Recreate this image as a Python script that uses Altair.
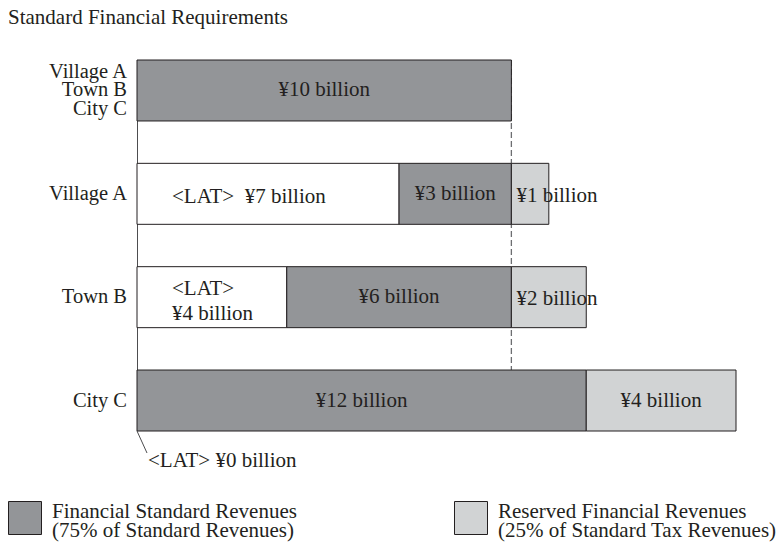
import altair as alt
import pandas as pd

# ---- data ----
chart_title = "Standard Financial Requirements"
rows = ["Village A|Town B|City C", "Village A", "Town B", "City C"]
municipalities = ["Village A", "Town B", "City C"]
standard_requirement = 10          # ¥ billion, common to all three
lat_values = [7, 4, 0]             # local allocation tax
fsr_values = [3, 6, 12]            # financial standard revenues
reserved_values = [1, 2, 4]        # reserved financial revenues

K_STD = "Standard"
K_LAT = "LAT"
K_FSR = "Financial Standard Revenues|(75% of Standard Revenues)"
K_RES = "Reserved Financial Revenues|(25% of Standard Tax Revenues)"
kind_domain = [K_STD, K_LAT, K_FSR, K_RES]
kind_colors = ["#939598", "#ffffff", "#939598", "#d1d3d4"]

FONT = "Liberation Serif"
INK = "#231f20"


def yen(v):
    return f"¥{v} billion"


# ---- build tables ----
bars, center_lbl, lat1_lbl, lat2_lbl, over_lbl, zero_lbl = [], [], [], [], [], []
bars.append(dict(row=rows[0], kind=K_STD, start=0, end=standard_requirement))
center_lbl.append(dict(row=rows[0], x=standard_requirement / 2, text=yen(standard_requirement)))
for name, lat, fsr, res in zip(municipalities, lat_values, fsr_values, reserved_values):
    if lat > 0:
        bars.append(dict(row=name, kind=K_LAT, start=0, end=lat))
        if lat >= 6:
            lat1_lbl.append(dict(row=name, x=0, text="<LAT>\u00a0\u00a0" + yen(lat)))
        else:
            lat2_lbl.append(dict(row=name, x=0, text="<LAT>\n" + yen(lat)))
    else:
        zero_lbl.append(dict(row=name, x=0, text="<LAT> " + yen(lat)))
    bars.append(dict(row=name, kind=K_FSR, start=lat, end=lat + fsr))
    center_lbl.append(dict(row=name, x=lat + fsr / 2, text=yen(fsr)))
    bars.append(dict(row=name, kind=K_RES, start=lat + fsr, end=lat + fsr + res))
    if res < 3:
        over_lbl.append(dict(row=name, x=lat + fsr, text=yen(res)))
    else:
        center_lbl.append(dict(row=name, x=lat + fsr + res / 2, text=yen(res)))

cat_multi = [dict(row=r, text=r.replace("|", "\n")) for r in rows if "|" in r]
cat_single = [dict(row=r, text=r) for r in rows if "|" not in r]

bars_df = pd.DataFrame(bars)

xscale = alt.Scale(domain=[0, 16], nice=False, zero=True)
yscale = alt.Scale(domain=rows, paddingInner=0.41, paddingOuter=0)
Y = alt.Y("row:N", sort=rows, scale=yscale)

dash = alt.Chart(pd.DataFrame({"v": [standard_requirement]})).mark_rule(
    strokeDash=[6, 3], color="#6d6e71", strokeWidth=1.3
).encode(x=alt.X("v:Q", scale=xscale, axis=None))

bar_layer = alt.Chart(bars_df).mark_bar(stroke=INK, strokeWidth=1, opacity=1).encode(
    x=alt.X("start:Q", scale=xscale, axis=None),
    x2="end:Q",
    y=alt.Y(
        "row:N",
        sort=rows,
        scale=yscale,
        axis=alt.Axis(
            title=None,
            ticks=False,
            grid=False,
            labels=False,
            domain=True,
            domainColor="#4d4d4f",
            domainWidth=1,
        ),
    ),
    color=alt.Color(
        "kind:N",
        scale=alt.Scale(domain=kind_domain, range=kind_colors),
        legend=alt.Legend(
            values=[K_FSR, K_RES],
            orient="none",
            legendX=-129,
            legendY=441,
            direction="horizontal",
            columns=2,
            columnPadding=155,
            title=None,
            symbolType="square",
            symbolSize=1089,
            symbolStrokeColor=INK,
            symbolStrokeWidth=1,
            symbolOpacity=1,
            labelExpr="split(datum.label, '|')",
            labelFont=FONT,
            labelFontSize=21,
            labelColor=INK,
            labelOffset=10,
            labelLimit=0,
            labelBaseline="alphabetic",
        ),
    ),
)


def text_layer(rows_list, align, dx=0, dy=0, x_field=True, size=21, lh=25):
    ch = alt.Chart(pd.DataFrame(rows_list)).mark_text(
        align=align, dx=dx, dy=dy, lineBreak="\n", lineHeight=lh,
        font=FONT, fontSize=size, color=INK, baseline="middle",
    )
    enc = dict(y=Y, text="text:N")
    enc["x"] = alt.X("x:Q", scale=xscale) if x_field else alt.value(-10)
    return ch.encode(**enc)


center_layer = text_layer(center_lbl, "center")
lat1_layer = text_layer(lat1_lbl, "left", dx=35, dy=3)
lat2_layer = text_layer(lat2_lbl, "left", dx=35, dy=-8)
over_layer = text_layer(over_lbl, "left", dx=5, dy=2)
zero_layer = text_layer(zero_lbl, "left", dx=11, dy=60)
cat1_layer = text_layer(cat_single, "right", x_field=False, size=20.5)
catm_layer = text_layer(cat_multi, "right", x_field=False, size=20.5, lh=18.5, dy=-18.5)

leader = alt.Chart(pd.DataFrame(zero_lbl)).mark_rule(color="#4d4d4f", strokeWidth=1).encode(
    x=alt.X("x:Q", scale=xscale), x2=alt.value(10), y=alt.value(371), y2=alt.value(393)
)

title_layer = alt.Chart(pd.DataFrame({"t": [chart_title]})).mark_text(
    align="left", baseline="alphabetic", font=FONT, fontSize=21, color=INK
).encode(x=alt.value(-129), y=alt.value(-36), text="t:N")

chart = (
    alt.layer(dash, bar_layer, center_layer, lat1_layer, lat2_layer, over_layer,
              zero_layer, leader, cat1_layer, catm_layer, title_layer)
    .properties(
        width=599,
        height=371,
        autosize=alt.AutoSizeParams(type="none"),
        padding={"left": 129, "top": 52, "right": 40, "bottom": 112},
    )
    .configure(background="white", style={"guide-label": {"lineHeight": 19}})
    .configure_view(stroke=None)
)

chart.save("out.html", embed_options={"renderer": "svg", "actions": False})
